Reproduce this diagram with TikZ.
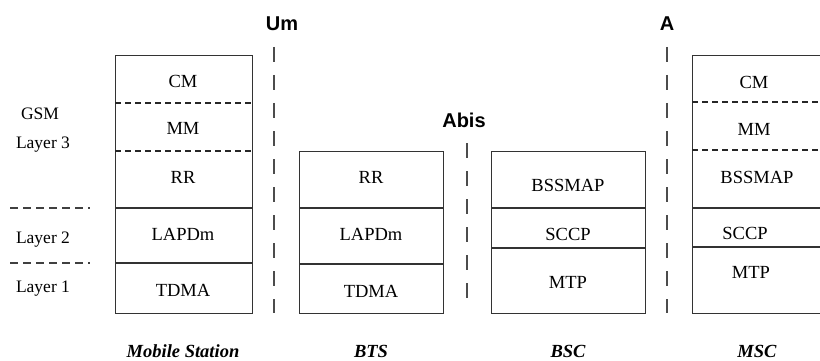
\documentclass[tikz,border=0pt]{standalone}
\usepackage{fontspec}
\setmainfont{Liberation Serif}
\newfontfamily\hdrfont{Liberation Sans}
\begin{document}
\begin{tikzpicture}[x=1pt,y=-1pt,
  box/.style={draw=black!80, line width=1.4pt, fill=white, inner sep=0pt, anchor=north west},
  lay/.style={font=\fontsize{18.5}{20}\selectfont},
  side/.style={font=\fontsize{17.5}{19}\selectfont},
  iface/.style={font=\hdrfont\bfseries\fontsize{20}{22}\selectfont},
  ent/.style={font=\bfseries\itshape\fontsize{18.5}{20}\selectfont, anchor=base, inner sep=0pt, text depth=0pt},
  sep/.style={draw=black!80, line width=1.3pt},
  dsep/.style={draw=black!85, line width=1.2pt, dash pattern=on 6pt off 4pt},
  lsep/.style={draw=black!75, line width=1.2pt, dash pattern=on 8pt off 5pt},
  ifl/.style={draw=black!70, line width=2pt, dash pattern=on 15pt off 13pt}]
\useasboundingbox (0,0) rectangle (820,361);
\clip (0,0) rectangle (820,361);

% interfaces
\node[iface] (um) at (282,24) {Um};
\coordinate (umtop) at (274,47);
\coordinate (umbot) at (274,313);
\draw[ifl] (umtop) -- (umbot);
\node[iface] (abis) at (464,120) {Abis};
\coordinate (abistop) at (467,143);
\coordinate (abisbot) at (467,308);
\draw[ifl] (abistop) -- (abisbot);
\node[iface] (a) at (667,24) {A};
\coordinate (atop) at (667,47);
\coordinate (abot) at (667,313);
\draw[ifl] (atop) -- (abot);

% side labels
\node[side] (gsm) at (40,114) {GSM};
\node[side] (l3) at (43,145) {Layer 3};
\node[side] (l2) at (43,240) {Layer 2};
\node[side] (l1) at (43,289) {Layer 1};
\coordinate (s1a) at (10,208);
\coordinate (s1b) at (90,208);
\coordinate (s2a) at (10,263);
\coordinate (s2b) at (90,263);
\draw[lsep] (s1a) -- (s1b);
\draw[lsep] (s2a) -- (s2b);

% Mobile Station
\node[box, minimum width=137pt, minimum height=258pt] (ms) at (115,55) {};
\draw[dsep] (ms.west |- 0,103) -- (ms.east |- 0,103);
\draw[dsep] (ms.west |- 0,151) -- (ms.east |- 0,151);
\draw[sep] (ms.west |- 0,208) -- (ms.east |- 0,208);
\draw[sep] (ms.west |- 0,263) -- (ms.east |- 0,263);
\node[lay] (mscm) at (183,81) {CM};
\node[lay] (msmm) at (183,128) {MM};
\node[lay] (msrr) at (183,177) {RR};
\node[lay] (mslap) at (183,234) {LAPDm};
\node[lay] (mstd) at (183,290) {TDMA};
\node[ent] (msl) at (183,357) {Mobile Station};

% BTS
\node[box, minimum width=144pt, minimum height=162pt] (bts) at (299,151) {};
\draw[sep] (bts.west |- 0,208) -- (bts.east |- 0,208);
\draw[sep] (bts.west |- 0,264) -- (bts.east |- 0,264);
\node[lay] (btsrr) at (371,177) {RR};
\node[lay] (btslap) at (371,234) {LAPDm};
\node[lay] (btstd) at (371,291) {TDMA};
\node[ent] (btsl) at (371,357) {BTS};

% BSC
\node[box, minimum width=154pt, minimum height=162pt] (bsc) at (491,151) {};
\draw[sep] (bsc.west |- 0,208) -- (bsc.east |- 0,208);
\draw[sep] (bsc.west |- 0,248) -- (bsc.east |- 0,248);
\node[lay] (bscmap) at (568,185) {BSSMAP};
\node[lay] (bscsccp) at (568,234) {SCCP};
\node[lay] (bscmtp) at (568,282) {MTP};
\node[ent] (bscl) at (568,357) {BSC};

% MSC
\node[box, minimum width=150pt, minimum height=258pt] (msc) at (692,55) {};
\draw[dsep] (msc.west |- 0,102) -- (msc.east |- 0,102);
\draw[dsep] (msc.west |- 0,150) -- (msc.east |- 0,150);
\draw[sep] (msc.west |- 0,208) -- (msc.east |- 0,208);
\draw[sep] (msc.west |- 0,247) -- (msc.east |- 0,247);
\node[lay] (msccm) at (754,82) {CM};
\node[lay] (mscmm) at (754,129) {MM};
\node[lay] (mscmap) at (757,177) {BSSMAP};
\node[lay] (mscsccp) at (745,233) {SCCP};
\node[lay] (mscmtp) at (751,272) {MTP};
\node[ent] (mscl) at (757,357) {MSC};
\end{tikzpicture}
\end{document}
